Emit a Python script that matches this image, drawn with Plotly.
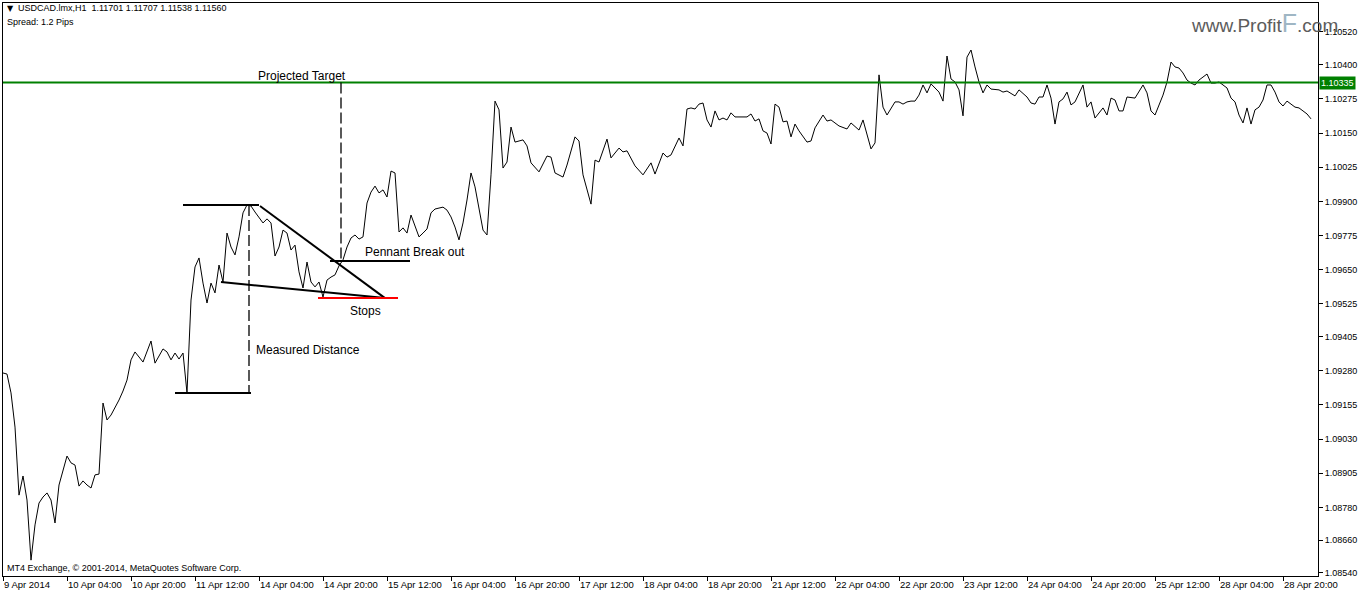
import plotly.graph_objects as go

# ---------------- data (H1 bars, bar index -> close) ----------------
price_points = [
    (0, 1.09272), (1, 1.09268), (2, 1.09199), (3, 1.09074), (4, 1.08825), (5, 1.08895),
    (6, 1.08807), (7, 1.08587), (8, 1.08716), (9, 1.08796), (10, 1.08818), (11, 1.08833),
    (12, 1.08807), (13, 1.08723), (14, 1.08862), (15, 1.08917), (16, 1.08968), (17, 1.08943),
    (18, 1.08935), (19, 1.08858), (20, 1.08877), (21, 1.08862), (22, 1.08851), (23, 1.08899),
    (24, 1.08902), (25, 1.09162), (26, 1.09100), (27, 1.09118), (28, 1.09144), (29, 1.09173),
    (30, 1.09206), (31, 1.09246), (32, 1.09320), (33, 1.09349), (35, 1.09312), (37, 1.09389),
    (38, 1.09308), (40, 1.09360), (41, 1.09349), (42, 1.09320), (43, 1.09345), (44, 1.09323),
    (45, 1.09345), (46, 1.09199), (47, 1.09539), (48, 1.09660), (49, 1.09693), (50, 1.09601),
    (51, 1.09528), (52, 1.09601), (53, 1.09565), (54, 1.09667), (55, 1.09605), (56, 1.09784),
    (57, 1.09733), (58, 1.09704), (59, 1.09770), (60, 1.09858), (61, 1.09887), (62, 1.09883),
    (63, 1.09861), (64, 1.09843), (65, 1.09821), (66, 1.09836), (67, 1.09821), (68, 1.09700),
    (69, 1.09733), (70, 1.09795), (71, 1.09784), (72, 1.09722), (73, 1.09740), (74, 1.09642),
    (75, 1.09583), (76, 1.09678), (77, 1.09605), (78, 1.09587), (79, 1.09605), (80, 1.09550),
    (81, 1.09612), (82, 1.09623), (83, 1.09631), (84, 1.09664), (85, 1.09686), (86, 1.09733),
    (87, 1.09766), (88, 1.09777), (89, 1.09762), (90, 1.09770), (91, 1.09894), (92, 1.09934),
    (93, 1.09956), (94, 1.09931), (95, 1.09942), (96, 1.09916), (97, 1.10011), (98, 1.10004),
    (99, 1.09788), (100, 1.09803), (101, 1.09784), (102, 1.09850), (103, 1.09806), (104, 1.09770),
    (105, 1.09784), (106, 1.09799), (107, 1.09858), (108, 1.09872), (110, 1.09879), (111, 1.09868),
    (112, 1.09843), (113, 1.09806), (114, 1.09759), (115, 1.09821), (116, 1.09905), (117, 1.10004),
    (118, 1.09953), (120, 1.09795), (121, 1.09777), (122, 1.09997), (123, 1.10267), (124, 1.10235),
    (125, 1.10022), (126, 1.10044), (127, 1.10172), (128, 1.10117), (130, 1.10125), (131, 1.10103),
    (132, 1.10041), (134, 1.10008), (136, 1.10066), (137, 1.10062), (138, 1.10004), (140, 1.09989),
    (141, 1.10033), (143, 1.10136), (144, 1.10121), (145, 1.09997), (147, 1.09890), (148, 1.10051),
    (149, 1.10044), (151, 1.10128), (152, 1.10059), (154, 1.10095), (155, 1.10081), (156, 1.10085),
    (158, 1.10030), (160, 1.09997), (162, 1.10041), (163, 1.10000), (165, 1.10077), (166, 1.10062),
    (167, 1.10070), (169, 1.10132), (170, 1.10103), (171, 1.10238), (172, 1.10242), (173, 1.10238),
    (174, 1.10256), (175, 1.10260), (176, 1.10198), (177, 1.10172), (178, 1.10231), (179, 1.10198),
    (180, 1.10205), (181, 1.10198), (182, 1.10224), (183, 1.10209), (184, 1.10209), (186, 1.10209),
    (187, 1.10220), (188, 1.10194), (189, 1.10202), (190, 1.10158), (191, 1.10150), (192, 1.10110),
    (193, 1.10256), (194, 1.10245), (195, 1.10191), (196, 1.10194), (197, 1.10136), (198, 1.10183),
    (199, 1.10158), (201, 1.10117), (202, 1.10121), (203, 1.10169), (205, 1.10216), (206, 1.10194),
    (207, 1.10198), (209, 1.10176), (211, 1.10165), (212, 1.10187), (214, 1.10161), (215, 1.10198),
    (217, 1.10092), (218, 1.10114), (219, 1.10363), (220, 1.10245), (221, 1.10216), (223, 1.10264),
    (224, 1.10264), (225, 1.10256), (226, 1.10264), (227, 1.10267), (228, 1.10267), (229, 1.10289),
    (230, 1.10326), (231, 1.10297), (232, 1.10330), (234, 1.10300), (235, 1.10267), (236, 1.10432),
    (237, 1.10348), (238, 1.10337), (239, 1.10308), (240, 1.10213), (241, 1.10428), (242, 1.10454),
    (243, 1.10392), (244, 1.10337), (245, 1.10297), (246, 1.10326), (247, 1.10311), (249, 1.10308),
    (250, 1.10300), (251, 1.10304), (253, 1.10286), (254, 1.10308), (256, 1.10282), (257, 1.10260),
    (258, 1.10256), (259, 1.10282), (260, 1.10282), (261, 1.10326), (262, 1.10278), (263, 1.10183),
    (264, 1.10264), (265, 1.10275), (266, 1.10300), (267, 1.10253), (268, 1.10264), (270, 1.10326),
    (271, 1.10245), (272, 1.10264), (273, 1.10205), (275, 1.10242), (276, 1.10216), (277, 1.10278),
    (278, 1.10271), (279, 1.10231), (280, 1.10231), (281, 1.10282), (283, 1.10278), (285, 1.10326),
    (286, 1.10297), (287, 1.10231), (288, 1.10216), (289, 1.10253), (290, 1.10289), (291, 1.10337),
    (292, 1.10410), (293, 1.10392), (294, 1.10388), (295, 1.10370), (296, 1.10344), (297, 1.10333),
    (298, 1.10326), (299, 1.10344), (301, 1.10366), (302, 1.10333), (303, 1.10333), (304, 1.10337),
    (306, 1.10315), (307, 1.10278), (308, 1.10264), (309, 1.10216), (310, 1.10187), (311, 1.10242),
    (312, 1.10183), (313, 1.10235), (314, 1.10245), (315, 1.10271), (316, 1.10326), (317, 1.10326),
    (318, 1.10300), (319, 1.10264), (320, 1.10249), (321, 1.10267), (322, 1.10256), (323, 1.10245),
    (324, 1.10242), (325, 1.10231), (326, 1.10220), (327, 1.10202),
]

x_tick_bars = [0, 16, 32, 48, 64, 80, 96, 112, 128, 144, 160, 176, 192, 208, 224, 240,
               256, 272, 288, 304, 320]
x_tick_labels = ["9 Apr 2014", "10 Apr 04:00", "10 Apr 20:00", "11 Apr 12:00", "14 Apr 04:00",
                 "14 Apr 20:00", "15 Apr 12:00", "16 Apr 04:00", "16 Apr 20:00", "17 Apr 12:00",
                 "18 Apr 04:00", "18 Apr 20:00", "21 Apr 12:00", "22 Apr 04:00", "22 Apr 20:00",
                 "23 Apr 12:00", "24 Apr 04:00", "24 Apr 20:00", "25 Apr 12:00", "28 Apr 04:00",
                 "28 Apr 20:00"]
y_tick_values = [1.10520, 1.10400, 1.10275, 1.10150, 1.10025, 1.09900, 1.09775, 1.09650,
                 1.09525, 1.09405, 1.09280, 1.09155, 1.09030, 1.08905, 1.08780, 1.08660, 1.08540]

target_price = 1.10335
# pattern drawing (bar index, price)
pennant_high = [(45, 1.09887), (64, 1.09887)]
measured_low = [(43, 1.09199), (62, 1.09199)]
measured_vertical = [(61.5, 1.09887), (61.5, 1.09199)]
pennant_upper = [(64.25, 1.09883), (95.5, 1.09546)]
pennant_lower = [(54.5, 1.09605), (95.5, 1.09546)]
stops_line = [(78.75, 1.09546), (98.75, 1.09546)]
breakout_line = [(81.75, 1.09682), (101.75, 1.09682)]
target_vertical = [(84.5, target_price), (84.5, 1.09682)]

labels = [
    ("Projected Target", 74.75, 1.10359, "center"),
    ("Pennant Break out", 90.0, 1.09715, "left"),
    ("Stops", 86.3, 1.09499, "left"),
    ("Measured Distance", 62.8, 1.09356, "left"),
]

bars = [p[0] for p in price_points]
closes = [p[1] for p in price_points]

FONT = "Liberation Sans, Arial, DejaVu Sans, sans-serif"

fig = go.Figure()
fig.add_trace(go.Scatter(x=bars, y=closes, mode="lines",
                         line=dict(color="#000000", width=1), hoverinfo="skip",
                         showlegend=False))

shapes = []


def seg(pts, color="#000000", width=2, dash="solid"):
    (x0, y0), (x1, y1) = pts
    shapes.append(dict(type="line", xref="x", yref="y", x0=x0, y0=y0, x1=x1, y1=y1,
                       line=dict(color=color, width=width, dash=dash), layer="above"))


# green target line across the whole chart
shapes.append(dict(type="line", xref="paper", yref="y", x0=0, x1=1, y0=target_price,
                   y1=target_price, line=dict(color="#008000", width=2)))
seg(pennant_high)
seg(measured_low)
seg(measured_vertical, width=1.3, dash="11px,4px")
seg(pennant_upper)
seg(pennant_lower)
seg(stops_line, color="#ff0000")
seg(breakout_line)
seg(target_vertical, width=1.3, dash="11px,4px")

annotations = []
for text, bx, py, anchor in labels:
    annotations.append(dict(x=bx, y=py, xref="x", yref="y", text=text, showarrow=False,
                            xanchor=anchor, yanchor="middle",
                            font=dict(family=FONT, size=12, color="#000000")))

# price label on the right axis
annotations.append(dict(x=1, y=target_price, xref="paper", yref="y", text="1.10335",
                        showarrow=False, xanchor="left", yanchor="middle", xshift=1,
                        bgcolor="#008000", borderpad=1,
                        font=dict(family=FONT, size=9, color="#ffffff")))

W_PLOT = 1315.0
H_PLOT = 573.0


def px(x):
    return (x - 3) / W_PLOT


def py_(y):
    return 1 - (y - 3) / H_PLOT


annotations += [
    dict(x=px(5), y=py_(8), xref="paper", yref="paper", text="\u25bc", showarrow=False,
         xanchor="left", yanchor="middle", font=dict(family="DejaVu Sans", size=8, color="#000")),
    dict(x=px(16), y=py_(8), xref="paper", yref="paper",
         text="USDCAD.lmx,H1&nbsp;&nbsp;1.11701 1.11707 1.11538 1.11560", showarrow=False,
         xanchor="left", yanchor="middle", font=dict(family=FONT, size=9, color="#000")),
    dict(x=px(5), y=py_(22), xref="paper", yref="paper", text="Spread: 1.2 Pips",
         showarrow=False, xanchor="left", yanchor="middle",
         font=dict(family=FONT, size=9, color="#000")),
    dict(x=px(5), y=py_(568), xref="paper", yref="paper",
         text="MT4 Exchange, \u00a9 2001-2014, MetaQuotes Software Corp.", showarrow=False,
         xanchor="left", yanchor="middle", font=dict(family=FONT, size=9, color="#000")),
    dict(x=px(1340), y=py_(23), xref="paper", yref="paper",
         text="www.Profit<span style='color:#9fb6c4;font-size:25px'>F</span>.com",
         showarrow=False, xanchor="right", yanchor="middle",
         font=dict(family=FONT, size=19, color="#5c5c5c")),
]

fig.update_layout(
    width=1358, height=594,
    margin=dict(l=3, r=40, t=3, b=18),
    paper_bgcolor="#ffffff", plot_bgcolor="#ffffff",
    shapes=shapes, annotations=annotations, showlegend=False,
    xaxis=dict(range=[0, 328.75], tickmode="array", tickvals=x_tick_bars,
               ticktext=x_tick_labels, ticks="outside", ticklen=4, tickcolor="#000",
               ticklabelposition="outside right", showgrid=False, zeroline=False,
               showline=True, linecolor="#000", linewidth=1, mirror=True,
               tickfont=dict(family=FONT, size=9.5, color="#000"), automargin=False),
    yaxis=dict(range=[1.08529, 1.10626], side="right", tickmode="array",
               tickvals=y_tick_values, ticktext=[f"{v:.5f}" for v in y_tick_values],
               ticks="outside", ticklen=4, tickcolor="#000", showgrid=False, zeroline=False,
               showline=True, linecolor="#000", linewidth=1, mirror=True,
               tickfont=dict(family=FONT, size=9, color="#000"), automargin=False),
)

fig.write_html("out.html", config={"displayModeBar": False},
               post_script="document.body.style.margin='0';"
                           "document.body.style.overflow='hidden';")
